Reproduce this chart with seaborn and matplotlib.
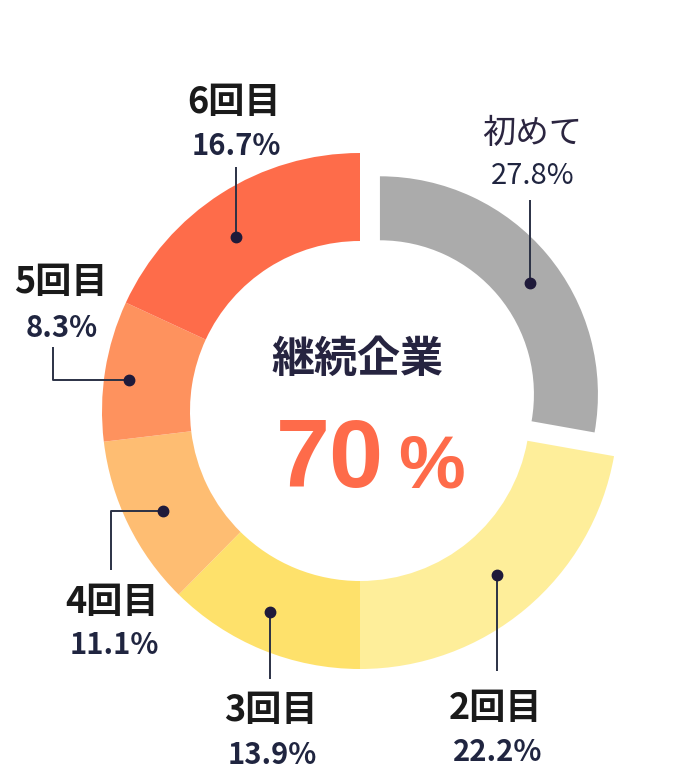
import numpy as np
import matplotlib.pyplot as plt
import seaborn as sns

# データ
categories = ['初めて', '2回目', '3回目', '4回目', '5回目', '6回目']
share_labels = ['27.8%', '22.2%', '13.9%', '11.1%', '8.3%', '16.7%']
# 円弧の大きさ
arc_shares = [27.8, 22.2, 12.4, 10.7, 8.8, 18.1]
colors = ['#ababab', '#feee9a', '#fee16b', '#febd72', '#fe925e', '#fe6c4a']
center_title = '継続企業'
center_value = '70'
center_unit = '%'

# レイアウト (ピクセル, 上から)
W, H = 680, 776
CX, CY = 360, H - 411
R_OUT, R_IN = 258, 170
R_OUT_G, R_IN_G = 218, 154
EXPLODE = 26

dot_nudge = [-3.4, 0, -1.8, 0.7, 1.4, 2.9]
ring_pos = [0.52, 0.5, 0.57, 0.58, 0.72, 0.5]
elbow_x = [None, None, None, 111, 53, None]
line_end = [200, 671, 679, 570, 347, 167]
name_pos = [(532, 133), (496, 709), (271, 711), (112, 602), (61, 283), (234, 102)]
pct_pos = [(533, 176), (498, 752), (272, 755), (114, 645), (62, 328), (236, 146)]

sns.set_theme(style='white')
plt.rcParams['font.family'] = ['Noto Sans CJK JP', 'DejaVu Sans']

fig = plt.figure(figsize=(W / 100, H / 100), dpi=100)
ax = fig.add_axes([0, 0, 1, 1])
pal = sns.color_palette(colors)

# 外側のリング (初めて以外)
wedges, _ = ax.pie(arc_shares, colors=pal, radius=R_OUT, center=(CX, CY),
                   startangle=90, counterclock=False,
                   wedgeprops=dict(width=R_OUT - R_IN, linewidth=0))
wedges[0].set_visible(False)

# 初めて: 細いリング + 少し外へ
g_wedges, _ = ax.pie(arc_shares, colors=pal, radius=R_OUT_G, center=(CX, CY),
                     startangle=90, counterclock=False,
                     explode=[EXPLODE, 0, 0, 0, 0, 0],
                     wedgeprops=dict(width=R_OUT_G - R_IN_G, linewidth=0))
for w in g_wedges[1:]:
    w.set_visible(False)

shown = [g_wedges[0]] + list(wedges[1:])

line_col = '#2b3145'
dot_col = '#1f1a3a'
for i, w in enumerate(shown):
    ang = np.deg2rad((w.theta1 + w.theta2) / 2 + dot_nudge[i])
    rr = w.r - w.width + ring_pos[i] * w.width
    dx = w.center[0] + rr * np.cos(ang)
    dy = w.center[1] + rr * np.sin(ang)
    ex = dx if elbow_x[i] is None else elbow_x[i]
    ax.plot([dx, ex, ex], [dy, dy, H - line_end[i]], color=line_col, lw=1.4,
            solid_capstyle='butt', zorder=4)
    ax.plot(dx, dy, 'o', ms=7.5, color=dot_col, zorder=5)

    first = i == 0
    ax.text(name_pos[i][0], H - name_pos[i][1], categories[i],
            ha='center', va='center', fontsize=24 if first else 26,
            fontweight='regular' if first else 'bold',
            color='#2b2540' if first else '#1a1a1a')
    ax.text(pct_pos[i][0], H - pct_pos[i][1], share_labels[i],
            ha='center', va='center', fontsize=21,
            fontweight='regular' if first else 'bold',
            color='#202540')

# 中央のテキスト
ax.text(357, H - 359, center_title, ha='center', va='center', fontsize=31,
        fontweight='bold', color='#262440')
ax.text(330, H - 487, center_value, ha='center', va='baseline', fontsize=70,
        fontweight='bold', color='#fe6b4a', family=['Liberation Sans', 'DejaVu Sans'])
ax.text(432, H - 487, center_unit, ha='center', va='baseline', fontsize=54,
        fontweight='bold', color='#fe6b4a', family=['Liberation Sans', 'DejaVu Sans'])

ax.set_xlim(0, W)
ax.set_ylim(0, H)
ax.set_aspect('equal')
ax.axis('off')

fig.savefig('out.png', dpi=100, facecolor='white')
